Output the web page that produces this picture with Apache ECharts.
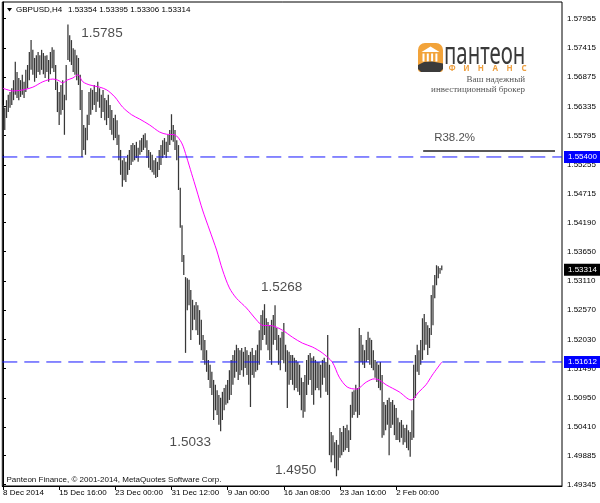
<!DOCTYPE html>
<html><head><meta charset="utf-8">
<script src="https://cdn.jsdelivr.net/npm/echarts@6/dist/echarts.min.js"></script>
<style>html,body{margin:0;padding:0;background:#fff}#c{width:600px;height:503px}</style>
</head><body><div id="c"></div>
<script>
const symbolName = 'GBPUSD,H4';
const lastOHLC = [1.53354, 1.53395, 1.53306, 1.53314];
const highs = [
1.5636,1.5631,1.5645,1.5655,1.5660,1.5667,1.5682,1.5716,1.5697,1.5686,
1.5682,1.5692,1.5679,1.5701,1.5710,1.5734,1.5756,1.5738,1.5723,1.5728,
1.5734,1.5728,1.5738,1.5732,1.5727,1.5728,1.5719,1.5734,1.5743,1.5738,
1.5710,1.5679,1.5660,1.5673,1.5682,1.5655,1.5710,1.5785,1.5765,1.5756,
1.5741,1.5738,1.5728,1.5723,1.5692,1.5664,1.5599,1.5594,1.5618,1.5660,
1.5667,1.5664,1.5673,1.5660,1.5679,1.5667,1.5655,1.5664,1.5649,1.5645,
1.5655,1.5636,1.5627,1.5612,1.5618,1.5608,1.5581,1.5553,1.5534,1.5538,
1.5531,1.5544,1.5553,1.5562,1.5566,1.5562,1.5568,1.5557,1.5571,1.5575,
1.5581,1.5584,1.5571,1.5553,1.5549,1.5544,1.5534,1.5538,1.5531,1.5553,
1.5562,1.5571,1.5575,1.5568,1.5581,1.5590,1.5619,1.5599,1.5590,1.5571,
1.5562,1.5483,1.5414,1.5359,1.5318,1.5316,1.5313,1.5294,1.5276,1.5266,
1.5272,1.5266,1.5257,1.5239,1.5211,1.5202,1.5183,1.5165,1.5156,1.5143,
1.5128,1.5119,1.5109,1.5100,1.5095,1.5106,1.5113,1.5119,1.5128,1.5146,
1.5165,1.5174,1.5183,1.5193,1.5187,1.5183,1.5187,1.5180,1.5189,1.5183,
1.5174,1.5180,1.5187,1.5174,1.5183,1.5193,1.5220,1.5248,1.5257,1.5268,
1.5242,1.5235,1.5229,1.5239,1.5248,1.5266,1.5224,1.5211,1.5206,1.5217,
1.5233,1.5193,1.5183,1.5180,1.5174,1.5174,1.5169,1.5165,1.5161,1.5156,
1.5132,1.5124,1.5137,1.5165,1.5174,1.5178,1.5169,1.5172,1.5165,1.5161,
1.5161,1.5156,1.5165,1.5169,1.5161,1.5211,1.5156,1.5032,1.5026,1.5013,
1.5017,1.5008,1.5039,1.5032,1.5043,1.5039,1.5045,1.5035,1.5082,1.5106,
1.5109,1.5119,1.5113,1.5224,1.5211,1.5193,1.5183,1.5202,1.5217,1.5206,
1.5202,1.5183,1.5165,1.5161,1.5156,1.5161,1.5137,1.5087,1.5082,1.5091,
1.5095,1.5087,1.5091,1.5082,1.5076,1.5058,1.5050,1.5054,1.5045,1.5039,
1.5045,1.5035,1.5032,1.5072,1.5156,1.5174,1.5193,1.5183,1.5202,1.5242,
1.5250,1.5235,1.5229,1.5224,1.5285,1.5303,1.5322,1.5340,1.5338,1.5335,
1.53395];
const lows = [
1.5544,1.5590,1.5612,1.5623,1.5631,1.5636,1.5645,1.5655,1.5649,1.5645,
1.5651,1.5655,1.5649,1.5660,1.5667,1.5682,1.5701,1.5692,1.5679,1.5686,
1.5697,1.5692,1.5701,1.5693,1.5686,1.5697,1.5679,1.5693,1.5704,1.5697,
1.5664,1.5623,1.5599,1.5618,1.5627,1.5581,1.5645,1.5719,1.5716,1.5710,
1.5697,1.5692,1.5682,1.5673,1.5627,1.5540,1.5553,1.5544,1.5571,1.5599,
1.5618,1.5627,1.5636,1.5623,1.5642,1.5631,1.5612,1.5623,1.5608,1.5599,
1.5612,1.5590,1.5581,1.5571,1.5575,1.5562,1.5534,1.5507,1.5485,1.5497,
1.5494,1.5507,1.5516,1.5525,1.5531,1.5534,1.5538,1.5531,1.5544,1.5549,
1.5553,1.5557,1.5538,1.5520,1.5516,1.5512,1.5507,1.5501,1.5503,1.5516,
1.5525,1.5538,1.5544,1.5538,1.5549,1.5562,1.5571,1.5568,1.5553,1.5534,
1.5479,1.5409,1.5346,1.5322,1.5178,1.5257,1.5266,1.5202,1.5220,1.5239,
1.5220,1.5211,1.5193,1.5183,1.5165,1.5156,1.5143,1.5128,1.5113,1.5100,
1.5054,1.5072,1.5063,1.5045,1.5033,1.5054,1.5072,1.5082,1.5085,1.5091,
1.5100,1.5119,1.5132,1.5143,1.5128,1.5137,1.5146,1.5134,1.5150,1.5137,
1.5119,1.5078,1.5137,1.5132,1.5143,1.5146,1.5156,1.5183,1.5202,1.5211,
1.5193,1.5183,1.5165,1.5156,1.5193,1.5202,1.5183,1.5156,1.5146,1.5165,
1.5159,1.5143,1.5076,1.5119,1.5128,1.5119,1.5109,1.5113,1.5106,1.5100,
1.5072,1.5058,1.5069,1.5100,1.5119,1.5128,1.5100,1.5082,1.5109,1.5113,
1.5109,1.5095,1.5119,1.5132,1.5106,1.5100,1.4989,1.4976,1.4989,1.4965,
1.4950,1.4961,1.4984,1.4989,1.4995,1.4998,1.5002,1.4995,1.5017,1.5058,
1.5063,1.5069,1.5058,1.5063,1.5161,1.5156,1.5150,1.5161,1.5165,1.5156,
1.5150,1.5146,1.5132,1.5124,1.5113,1.5109,1.5021,1.5026,1.5035,1.5045,
1.4989,1.5039,1.5045,1.5026,1.5017,1.5017,1.5013,1.5021,1.5008,1.5013,
1.5002,1.4998,1.4986,1.5017,1.5021,1.5095,1.5143,1.5137,1.5156,1.5165,
1.5183,1.5193,1.5174,1.5187,1.5211,1.5229,1.5279,1.5303,1.5316,1.5324,
1.53306];
const maIndex = [0,5.7,11.4,17,22.7,28.4,31.3,34.1,36.4,39.8,42.6,45.5,49.5,55.1,59.1,63.7,68.2,73.3,77.9,83.6,89.3,93.2,97.8,101.8,104.6,107.4,110.3,113.7,117.7,121.7,125.1,129,133,138.7,144.4,147.8,153.5,159.2,164.9,170.6,176.2,181.9,187.6,191.6,196.1,201.3,207,211.5,214.3,218.3,225.7,232.5,237,241,244.6,250];
const maValue = [1.5667,1.5662,1.5664,1.5669,1.5679,1.5684,1.5682,1.5677,1.5682,1.5686,1.5692,1.5679,1.5673,1.5669,1.5664,1.5651,1.5632,1.5618,1.5610,1.5599,1.5586,1.5582,1.5581,1.5566,1.5540,1.5510,1.5479,1.5442,1.5405,1.5368,1.5331,1.5298,1.5279,1.5261,1.5239,1.5229,1.5228,1.5220,1.5207,1.5196,1.5189,1.5178,1.5161,1.5133,1.5115,1.5111,1.5124,1.5130,1.5128,1.5119,1.5106,1.5091,1.5106,1.5119,1.5137,1.5161];
const xTickIndex = [0,32,64,96,128,160,192,224];
const xTickLabels = ['8 Dec 2014','15 Dec 16:00','23 Dec 00:00','31 Dec 12:00','9 Jan 00:00','16 Jan 08:00','23 Jan 16:00','2 Feb 00:00'];
const yTickValues = [1.57955,1.57415,1.56875,1.56335,1.55795,1.55255,1.54715,1.54190,1.53650,1.53110,1.52570,1.52030,1.51490,1.50950,1.50410,1.49885,1.49345];
const levelLines = [1.55400, 1.51612];
const fiboText = 'R38.2%';
const fiboLevel = 1.5551;
const fiboFrom = 239.4, fiboTo = 314.5;
const annText = ['1.5785','1.5268','1.5033','1.4950'];
const annIndex = [56.4,158.7,106.7,166.7];
const annPrice = [1.57686,1.52984,1.50120,1.49615];
const fiboTextIndex = 257.3, fiboTextPrice = 1.55751;
const xMin = -0.4, xMax = 318.5, yMin = 1.49320, yMax = 1.58264;

const FONT = '"Liberation Sans", Arial, sans-serif';
const chart = echarts.init(document.getElementById('c'), null, {renderer:'canvas'});

const barData = highs.map((h,i)=>[i, lows[i], h]);
const maData = maIndex.map((x,i)=>[x, maValue[i]]);

function tagLabel(v, bg){
  return {
    show:true, distance:2, formatter: v.toFixed(5), align:'left', verticalAlign:'middle',
    backgroundColor:bg, color:'#fff', fontSize:8, fontFamily:FONT,
    padding:[2,4,1,4], lineHeight:9
  };
}
function hLine(v, style, bg){
  return {
    type:'line', data:[[xMin, v],[xMax, v]], symbol:'none', silent:true, clip:false,
    lineStyle:style, endLabel:tagLabel(v, bg), z:5
  };
}

const annData = annText.map((t,i)=>({value:[annIndex[i],annPrice[i]], name:t}));
annData.push({value:[fiboTextIndex,fiboTextPrice], name:fiboText, label:{fontSize:11.5}});

const series = [
  {
    type:'custom', name:'bars', data:barData, encode:{x:0, y:[1,2]}, clip:true,
    renderItem:function(params, api){
      const p1 = api.coord([api.value(0), api.value(1)]);
      const p2 = api.coord([api.value(0), api.value(2)]);
      return {type:'line', shape:{x1:p1[0], y1:p1[1], x2:p2[0], y2:p2[1]},
        style:{stroke:'#383838', lineWidth:1.25}};
    }
  },
  {
    type:'line', name:'MA', data:maData, smooth:0.3, symbol:'none',
    lineStyle:{color:'#ff00ff', width:1}, z:4
  },
  {
    type:'line', name:'fibo', data:[[fiboFrom,fiboLevel],[fiboTo,fiboLevel]], symbol:'none', silent:true,
    lineStyle:{color:'#222', width:1.5}
  },
  {
    type:'scatter', name:'notes', data:annData, symbolSize:1, itemStyle:{color:'transparent'},
    label:{show:true, position:'inside', formatter:p=>p.name, fontSize:13.5, fontFamily:FONT, color:'#1e1e1e'}
  }
];
levelLines.forEach(v=>series.push(hLine(v, {color:'#1414ff', type:[15,7], width:1}, '#0000ff')));
series.push(hLine(lastOHLC[3], {opacity:0, width:0}, '#000'));

const option = {
  backgroundColor:'#fff',
  animation:false,
  grid:{left:2, top:2, right:38, bottom:17, show:true, borderColor:'#000', borderWidth:1},
  xAxis:{
    type:'value', min:xMin, max:xMax,
    axisLine:{show:true, lineStyle:{color:'#000'}},
    axisTick:{show:true, customValues:xTickIndex, length:4, lineStyle:{color:'#000'}},
    axisLabel:{show:true, customValues:xTickIndex, formatter:v=>{const k=xTickIndex.indexOf(Math.round(v));return k>=0?xTickLabels[k]:'';},
      align:'left', fontSize:8, fontFamily:FONT, color:'#000', margin:3},
    splitLine:{show:false}
  },
  yAxis:{
    type:'value', position:'right', min:yMin, max:yMax, scale:true,
    axisLine:{show:true, lineStyle:{color:'#000'}},
    axisTick:{show:true, customValues:yTickValues, length:3, lineStyle:{color:'#000'}},
    axisLabel:{show:true, customValues:yTickValues, formatter:v=>v.toFixed(5), fontSize:8, fontFamily:FONT, color:'#000', margin:5},
    splitLine:{show:false}
  },
  series:series,
  graphic:[
    {type:'polygon', shape:{points:[[7,8],[12,8],[9.5,11.5]]}, style:{fill:'#000'}},
    {type:'text', x:16, y:9.5, style:{text:symbolName, font:'8px '+FONT, fill:'#000', textVerticalAlign:'middle'}},
    {type:'text', x:68, y:9.5, style:{text:lastOHLC.map(v=>v.toFixed(5)).join(' '), font:'8px '+FONT, fill:'#000', textVerticalAlign:'middle'}},
    {type:'text', x:6.5, y:480, style:{text:'Panteon Finance, © 2001-2014, MetaQuotes Software Corp.', font:'8px '+FONT, fill:'#111', textVerticalAlign:'middle'}},
    {type:'rect', shape:{x:418, y:43, width:25, height:29, r:[7,7,3,3]}, style:{fill:'#f2a33a'}},
    {type:'polygon', shape:{points:[[421.5,52],[430.5,46.5],[439.5,52]]}, style:{fill:'#fff'}},
    {type:'rect', shape:{x:422.5, y:53.5, width:2, height:8}, style:{fill:'#fff'}},
    {type:'rect', shape:{x:426.8, y:53.5, width:2, height:8}, style:{fill:'#fff'}},
    {type:'rect', shape:{x:431.1, y:53.5, width:2, height:8}, style:{fill:'#fff'}},
    {type:'rect', shape:{x:435.4, y:53.5, width:2, height:8}, style:{fill:'#fff'}},
    {type:'polygon', shape:{points:[[418,65],[424,62],[432,61.5],[443,63.5],[443,69],[440,72],[421,72],[418,69]]}, style:{fill:'#3b3b3b'}},
    {type:'text', x:444, y:55, scaleX:0.68, style:{text:'пантеон', font:'30px "Noto Sans", sans-serif', fill:'#3a3a3a', textVerticalAlign:'middle'}},
    ...['Ф','И','Н','А','Н','С'].map((ch,i)=>({type:'text', x:452+i*14.4, y:69, style:{text:ch, font:'bold 8px "Noto Sans", sans-serif', fill:'#eea040', textAlign:'center', textVerticalAlign:'middle'}})),
    {type:'text', x:525, y:80, style:{text:'Ваш надежный', font:'9px "Liberation Serif", serif', fill:'#555', textAlign:'right', textVerticalAlign:'middle'}},
    {type:'text', x:525, y:89.5, style:{text:'инвестиционный брокер', font:'9px "Liberation Serif", serif', fill:'#555', textAlign:'right', textVerticalAlign:'middle'}}
  ]
};
chart.setOption(option);
</script>
</body></html>
